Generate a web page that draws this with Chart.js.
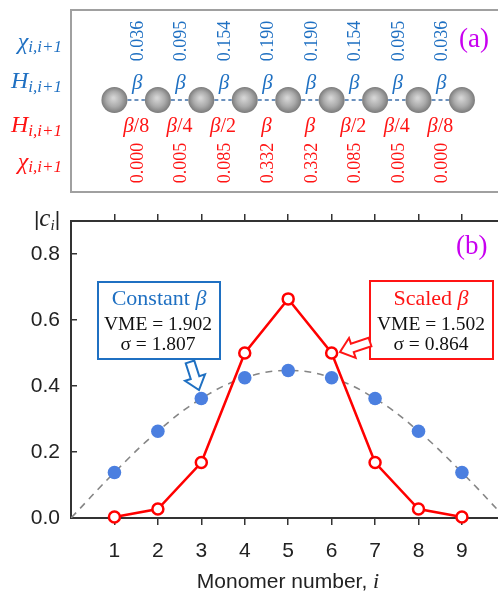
<!DOCTYPE html>
<html><head><meta charset="utf-8">
<script src="https://cdn.jsdelivr.net/npm/chart.js@4.4.0/dist/chart.umd.min.js"></script>
<style>html,body{margin:0;padding:0;background:#fff;overflow:hidden}canvas{display:block}</style>
</head><body>
<canvas id="c" width="498" height="593"></canvas>
<script>
// ---- data ----
const monomers = [1, 2, 3, 4, 5, 6, 7, 8, 9];
const constantBeta = [0.138, 0.263, 0.362, 0.425, 0.447, 0.425, 0.362, 0.263, 0.138];
const scaledBeta = [0.003, 0.027, 0.168, 0.500, 0.664, 0.500, 0.168, 0.027, 0.003];
const guideX = [0, 1, 2, 3, 4, 5, 6, 7, 8, 9, 10];
const guideY = [0, 0.138, 0.263, 0.362, 0.425, 0.447, 0.425, 0.362, 0.263, 0.138, 0];
const xTicks = [1, 2, 3, 4, 5, 6, 7, 8, 9];
const yTicks = [0, 0.2, 0.4, 0.6, 0.8];
const bondChiConstant = [0.036, 0.095, 0.154, 0.190, 0.190, 0.154, 0.095, 0.036];
const bondHConstant = ['', '', '', '', '', '', '', ''];
const bondHScaled = ['/8', '/4', '/2', '', '', '/2', '/4', '/8'];
const bondChiScaled = [0.000, 0.005, 0.085, 0.332, 0.332, 0.085, 0.005, 0.000];
const constantStats = ['1.902', '1.807'];
const scaledStats = ['1.502', '0.864'];

const BLUE = '#1f70c2', RED = '#ff1414', MAG = '#c800f0', SERIF = '"Liberation Serif", "DejaVu Serif", serif', SANS = '"Liberation Sans", Arial, sans-serif';
const AREA = { left: 71, right: 498, top: 221, bottom: 518 };

function runs(ctx, parts, x, y, align) {
  let w = 0;
  parts.forEach(p => { ctx.font = p[1]; w += ctx.measureText(p[0]).width; });
  let cx = align === 'right' ? x - w : (align === 'center' ? x - w / 2 : x);
  ctx.textAlign = 'left'; ctx.textBaseline = 'alphabetic';
  parts.forEach(p => { ctx.font = p[1]; ctx.fillStyle = p[2]; ctx.fillText(p[0], cx, y + (p[3] || 0)); cx += ctx.measureText(p[0]).width; });
}
function hollowArrow(ctx, tail, tip, sw, hw, hl, color) {
  const dx = tip[0] - tail[0], dy = tip[1] - tail[1], L = Math.hypot(dx, dy);
  const ux = dx / L, uy = dy / L, nx = -uy, ny = ux;
  const pts = [[0, -sw / 2], [L - hl, -sw / 2], [L - hl, -hw / 2], [L, 0], [L - hl, hw / 2], [L - hl, sw / 2], [0, sw / 2]];
  ctx.beginPath();
  pts.forEach((p, i) => { const X = tail[0] + ux * p[0] + nx * p[1], Y = tail[1] + uy * p[0] + ny * p[1]; i ? ctx.lineTo(X, Y) : ctx.moveTo(X, Y); });
  ctx.closePath();
  ctx.fillStyle = '#fff'; ctx.fill();
  ctx.strokeStyle = color; ctx.lineWidth = 2; ctx.lineJoin = 'miter'; ctx.stroke();
}

const panelPlugin = {
  id: 'panel',
  afterDraw(chart) {
    const ctx = chart.ctx, xs = chart.scales.x;
    ctx.save();
    // ---- panel (a) ----
    ctx.strokeStyle = '#a0a0a0'; ctx.lineWidth = 2;
    ctx.beginPath(); ctx.moveTo(499, 10); ctx.lineTo(71, 10); ctx.lineTo(71, 192); ctx.lineTo(499, 192); ctx.stroke();
    const sy = 100, r = 13;
    ctx.strokeStyle = '#3d6ea8'; ctx.lineWidth = 1.5; ctx.setLineDash([4, 3]);
    for (let i = 0; i < monomers.length - 1; i++) {
      const a = xs.getPixelForValue(monomers[i]), b = xs.getPixelForValue(monomers[i + 1]);
      ctx.beginPath(); ctx.moveTo(a + r, sy); ctx.lineTo(b - r, sy); ctx.stroke();
    }
    ctx.setLineDash([]);
    monomers.forEach(m => {
      const cx = xs.getPixelForValue(m);
      const g = ctx.createRadialGradient(cx - 1, sy - 2, 1, cx, sy, r);
      g.addColorStop(0, '#d4d4d4'); g.addColorStop(0.55, '#ababab'); g.addColorStop(1, '#7b7b7b');
      ctx.fillStyle = g; ctx.beginPath(); ctx.arc(cx, sy, r, 0, Math.PI * 2); ctx.fill();
    });
    for (let i = 0; i < monomers.length - 1; i++) {
      const mid = (xs.getPixelForValue(monomers[i]) + xs.getPixelForValue(monomers[i + 1])) / 2 + 1;
      ctx.textAlign = 'center'; ctx.textBaseline = 'middle';
      ctx.font = '18px ' + SERIF;
      ctx.save(); ctx.translate(mid, 41); ctx.rotate(-Math.PI / 2); ctx.fillStyle = BLUE; ctx.fillText(bondChiConstant[i].toFixed(3), 0, 1); ctx.restore();
      ctx.save(); ctx.translate(mid, 163); ctx.rotate(-Math.PI / 2); ctx.fillStyle = RED; ctx.fillText(bondChiScaled[i].toFixed(3), 0, 1); ctx.restore();
      runs(ctx, [['β', 'italic 21px ' + SERIF, BLUE], [bondHConstant[i], '20px ' + SERIF, BLUE]], mid, 89, 'center');
      runs(ctx, [['β', 'italic 21px ' + SERIF, RED], [bondHScaled[i], '20px ' + SERIF, RED]], mid - 1, 132, 'center');
    }
    const mainF = 'italic 24px ' + SERIF, subF = 'italic 17px ' + SERIF;
    runs(ctx, [['χ', mainF, BLUE], ['i,i+1', subF, BLUE, 3]], 62, 49, 'right');
    runs(ctx, [['H', mainF, BLUE], ['i,i+1', subF, BLUE, 4]], 62, 88, 'right');
    runs(ctx, [['H', mainF, RED], ['i,i+1', subF, RED, 4]], 62, 132, 'right');
    runs(ctx, [['χ', mainF, RED], ['i,i+1', subF, RED, 3]], 62, 169, 'right');
    runs(ctx, [['(a)', '27px ' + SERIF, MAG]], 459, 47, 'left');

    // ---- panel (b) decorations ----
    runs(ctx, [['(b)', '27px ' + SERIF, MAG]], 456, 254, 'left');
    runs(ctx, [['|', '21px ' + SANS, '#222'], ['c', 'italic 25px ' + SERIF, '#222'], ['i', 'italic 15px ' + SERIF, '#222', 4], ['|', '21px ' + SANS, '#222']], 47, 226, 'center');
    runs(ctx, [['Monomer number, ', '21px ' + SANS, '#222'], ['i', 'italic 22px ' + SERIF, '#222']], 288, 588, 'center');

    ctx.lineWidth = 2;
    ctx.fillStyle = '#fff';
    ctx.strokeStyle = BLUE; ctx.fillRect(98, 282, 122, 77); ctx.strokeRect(98, 282, 122, 77);
    ctx.strokeStyle = RED; ctx.fillRect(370, 281, 123, 78); ctx.strokeRect(370, 281, 123, 78);
    runs(ctx, [['Constant ', '22px ' + SERIF, BLUE], ['β', 'italic 22px ' + SERIF, BLUE]], 159, 305, 'center');
    runs(ctx, [['VME = ' + constantStats[0], '19.5px ' + SERIF, '#111']], 158, 330, 'center');
    runs(ctx, [['σ = ' + constantStats[1], '19.5px ' + SERIF, '#111']], 158, 350, 'center');
    runs(ctx, [['Scaled ', '22px ' + SERIF, RED], ['β', 'italic 22px ' + SERIF, RED]], 431, 305, 'center');
    runs(ctx, [['VME = ' + scaledStats[0], '19.5px ' + SERIF, '#111']], 431, 330, 'center');
    runs(ctx, [['σ = ' + scaledStats[1], '19.5px ' + SERIF, '#111']], 431, 350, 'center');

    hollowArrow(ctx, [190, 362], [199, 390], 9, 21, 13, BLUE);
    hollowArrow(ctx, [370, 342], [340, 352], 9, 21, 13, RED);
    ctx.restore();
  }
};

const tickFilterX = s => { s.ticks = xTicks.map(v => ({ value: v })); };
const zeroPad = s => { s.paddingLeft = 0; s.paddingRight = 0; s.paddingTop = 0; s.paddingBottom = 0; };
const pad = { top: 214, left: 0, right: 0, bottom: 0 };
const chart = new Chart(document.getElementById('c').getContext('2d'), {
  type: 'line',
  data: {
    datasets: [
      { label: 'guide', data: guideX.map((x, i) => ({ x, y: guideY[i] })), borderColor: '#858585', borderWidth: 1.6, borderDash: [7, 6], pointRadius: 0, tension: 0.4, fill: false, order: 3 },
      { label: 'Constant β', data: monomers.map((x, i) => ({ x, y: constantBeta[i] })), showLine: false, pointRadius: 6.8, pointBackgroundColor: '#4b7fe0', pointBorderWidth: 0, pointBorderColor: '#4b7fe0', order: 2 },
      { label: 'Scaled β', data: monomers.map((x, i) => ({ x, y: scaledBeta[i] })), borderColor: '#ff0000', borderWidth: 2.5, pointRadius: 5.5, pointBackgroundColor: '#fff', pointBorderColor: '#ff0000', pointBorderWidth: 2.5, tension: 0, clip: false, order: 1 }
    ]
  },
  options: {
    responsive: false, animation: false, devicePixelRatio: 1,
    layout: { padding: pad, autoPadding: false },
    plugins: { legend: { display: false }, tooltip: { enabled: false } },
    scales: {
      x: {
        type: 'linear', position: 'bottom', min: 0, max: 9.83,
        afterBuildTicks: tickFilterX, afterFit: s => { s.height = 75; zeroPad(s); },
        ticks: { font: { family: 'Liberation Sans', size: 21 }, color: '#222', padding: 14, maxRotation: 0, autoSkip: false, callback: v => String(v) },
        grid: { drawOnChartArea: false, tickLength: 7, color: '#333', lineWidth: 1.5 },
        border: { color: '#333', width: 2 }
      },
      x2: {
        type: 'linear', position: 'top', min: 0, max: 9.83,
        afterBuildTicks: tickFilterX, afterFit: s => { s.height = 7; zeroPad(s); },
        ticks: { display: false },
        grid: { drawOnChartArea: false, tickLength: 7, color: '#333', lineWidth: 1.5 },
        border: { color: '#333', width: 2 }
      },
      y: {
        type: 'linear', min: 0, max: 0.9,
        afterBuildTicks: s => { s.ticks = yTicks.map(v => ({ value: v })); }, afterFit: s => { s.width = 71; zeroPad(s); },
        ticks: { font: { family: 'Liberation Sans', size: 21 }, color: '#222', padding: 17, callback: v => v.toFixed(1) },
        grid: { drawOnChartArea: false, tickLength: -6, color: '#333', lineWidth: 1.5 },
        border: { color: '#333', width: 2 }
      }
    }
  },
  plugins: [panelPlugin]
});
for (let k = 0; k < 3; k++) {
  const a = chart.chartArea;
  const dl = AREA.left - a.left, dr = a.right - AREA.right, dt = AREA.top - a.top, db = a.bottom - AREA.bottom;
  if (Math.abs(dl) < 0.5 && Math.abs(dr) < 0.5 && Math.abs(dt) < 0.5 && Math.abs(db) < 0.5) break;
  pad.left += dl; pad.right += dr; pad.top += dt; pad.bottom += db;
  chart.options.layout.padding = Object.assign({}, pad);
  chart.update('none');
}
</script>
</body></html>
